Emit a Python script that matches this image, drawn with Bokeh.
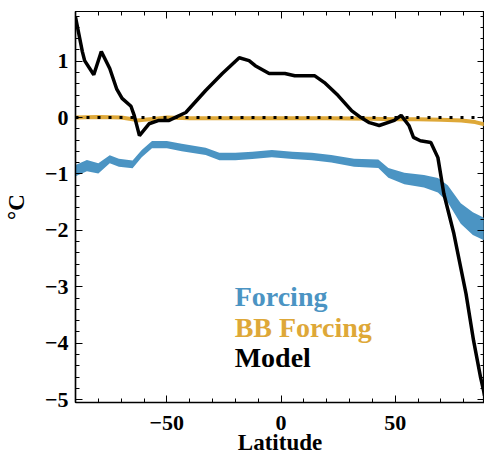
from bokeh.plotting import figure
from bokeh.models import Range1d, LinearAxis, SingleIntervalTicker, Span, Label, CustomJSTickFormatter
from bokeh.embed import file_html
from bokeh.resources import INLINE

# ---- data ----
model_lat = [-90, -87, -86, -82, -78.7, -75, -72, -69.6, -65.7, -64.3, -62, -57.8, -53.5, -49, -47.4,
             -41.7, -33, -25.7, -18.3, -14, -11.3, -5.2, 1.7, 6, 14.8, 19, 25, 31, 35, 38.7, 43,
             49.6, 52.6, 56, 58, 61, 65.6, 68.7, 71.3, 75.7, 81, 84.3, 87.4, 88.7, 89.1]
model_val = [1.78, 1.17, 1.01, 0.76, 1.17, 0.87, 0.51, 0.34, 0.2, 0.04, -0.32, -0.11, -0.05, -0.05, -0.02,
             0.09, 0.48, 0.78, 1.06, 1.01, 0.92, 0.78, 0.78, 0.74, 0.74, 0.62, 0.39, 0.12, 0.0, -0.09, -0.14,
             -0.05, 0.04, -0.14, -0.35, -0.41, -0.44, -0.71, -1.35, -2.06, -3.12, -3.95, -4.61, -4.84, -4.93]

forcing_lat = [-90, -85, -80, -75, -71, -65, -61, -56.5, -50, -43.5, -33, -27, -20, -12.6, -4, 5, 13.5,
               22, 32, 42.6, 47, 54, 62.6, 68.7, 73, 78.7, 84, 89.1]
forcing_val = [-0.94, -0.85, -0.9, -0.74, -0.8, -0.83, -0.64, -0.48, -0.48, -0.53, -0.6, -0.69, -0.69,
               -0.67, -0.64, -0.67, -0.69, -0.73, -0.8, -0.82, -0.98, -1.08, -1.13, -1.2, -1.35, -1.7,
               -1.88, -1.98]
forcing_spread = [0.1, 0.1, 0.09, 0.07, 0.07, 0.07, 0.065, 0.065, 0.065, 0.065, 0.065, 0.065, 0.065, 0.065,
                  0.065, 0.065, 0.065, 0.065, 0.07, 0.075, 0.085, 0.1, 0.11, 0.13, 0.15, 0.18, 0.2, 0.2]

bb_lat = [-90, -80, -70, -65, -63, -60, -55, -50, -40, -20, 0, 20, 40, 50, 60, 70, 79, 85, 89.1]
bb_val = [0.0, 0.01, 0.0, -0.03, -0.05, -0.04, -0.02, 0.0, -0.01, -0.01, -0.01, -0.01, -0.02, -0.03,
          -0.03, -0.04, -0.05, -0.08, -0.12]

x_ticks = [-50, 0, 50]
x_tick_labels = ["\u221250", "0", "50"]
y_ticks = [-5, -4, -3, -2, -1, 0, 1]
y_tick_labels = ["\u22125", "\u22124", "\u22123", "\u22122", "\u22121", "0", "1"]

series_names = ["Forcing", "BB Forcing", "Model"]
series_colors = ["#4b94c3", "#dea838", "#000000"]

FONT = "Liberation Serif"

forcing_lo = [v - s for v, s in zip(forcing_val, forcing_spread)]
forcing_hi = [v + s for v, s in zip(forcing_val, forcing_spread)]

p = figure(width=484, height=458, output_backend="svg", toolbar_location=None,
           x_range=Range1d(-90, 89.1), y_range=Range1d(-5.05, 1.88),
           min_border_left=72, min_border_right=0, min_border_top=11, min_border_bottom=56)
p.grid.visible = False
p.outline_line_color = "black"
p.outline_line_width = 1.2
p.background_fill_color = "white"
p.border_fill_color = "white"

p.varea(x=forcing_lat, y1=forcing_lo, y2=forcing_hi, fill_color=series_colors[0])
p.line(bb_lat, bb_val, line_color=series_colors[1], line_width=4)
p.add_layout(Span(location=0, dimension="width", line_color="black", line_width=3, line_dash="3 8"))
p.line(model_lat, model_val, line_color="black", line_width=3.5)

xt = SingleIntervalTicker(interval=50, num_minor_ticks=5)
yt = SingleIntervalTicker(interval=1, num_minor_ticks=5)

def style_axis(ax):
    ax.major_tick_in = 7
    ax.major_tick_out = 0
    ax.minor_tick_in = 4
    ax.minor_tick_out = 0
    ax.axis_line_color = "black"
    ax.axis_line_width = 1.5
    ax.major_tick_line_color = "black"
    ax.minor_tick_line_color = "black"
    ax.major_label_text_font = FONT
    ax.major_label_text_font_style = "bold"
    ax.major_label_text_font_size = "22px"
    ax.major_label_text_color = "black"
    ax.axis_label_text_font = FONT
    ax.axis_label_text_font_style = "bold"
    ax.axis_label_text_font_size = "23px"
    ax.axis_label_text_color = "black"

xa = p.xaxis[0]
xa.ticker = xt
xa.major_label_overrides = dict(zip(x_ticks, x_tick_labels))
style_axis(xa)
xa.major_label_standoff = 13
xa.axis_label = "Latitude"
xa.axis_label_standoff = -3

ya = p.yaxis[0]
ya.ticker = yt
ya.major_label_overrides = dict(zip(y_ticks, y_tick_labels))
style_axis(ya)
ya.major_label_standoff = 7
ya.axis_label = "\u00b0C"
ya.axis_label_standoff = 13

blank = CustomJSTickFormatter(code="return ''")
top = LinearAxis(ticker=SingleIntervalTicker(interval=50, num_minor_ticks=5), formatter=blank)
style_axis(top)
top.axis_line_width = 1.2
p.add_layout(top, "above")
right = LinearAxis(ticker=SingleIntervalTicker(interval=1, num_minor_ticks=5), formatter=blank)
style_axis(right)
p.add_layout(right, "right")

legend_y = [-3.17, -3.72, -4.25]
for name, col, ly in zip(series_names, series_colors, legend_y):
    p.add_layout(Label(x=-20.3, y=ly, text=name, text_color=col, text_font=FONT,
                       text_font_style="bold", text_font_size="28px", text_baseline="alphabetic"))

open("out.html", "w").write(file_html(p, INLINE))
